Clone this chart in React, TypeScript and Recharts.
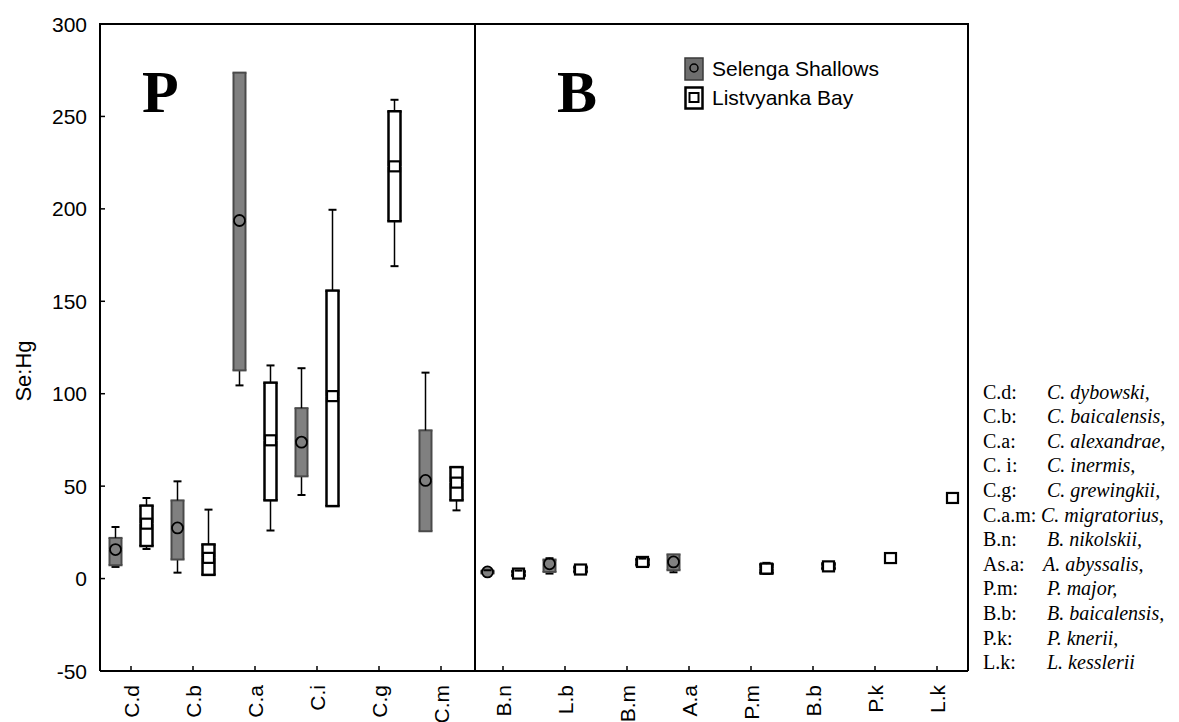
import React from 'react';
import { ComposedChart, Bar, XAxis, YAxis, Legend } from 'recharts';

// ---------- data ----------
const categories = ['C.d', 'C.b', 'C.a', 'C.i', 'C.g', 'C.m', 'B.n', 'L.b', 'B.m', 'A.a', 'P.m', 'B.b', 'P.k', 'L.k'];

// Selenga Shallows (null = no sample)
const selengaMin = [6.3, 3.2, 104.5, 45.2, null, 25.6, 2.5, 2.7, null, 3.4, null, null, null, null];
const selengaQ1 = [7.2, 10.3, 112.6, 55.3, null, 25.6, 2.8, 3.6, null, 4.5, null, null, null, null];
const selengaMed = [15.7, 27.4, 193.7, 73.8, null, 53.1, 3.6, 8.0, null, 9.0, null, null, null, null];
const selengaQ3 = [22.0, 42.3, 273.7, 92.2, null, 80.2, 4.2, 10.3, null, 13.1, null, null, null, null];
const selengaMax = [27.9, 52.6, 273.7, 113.8, null, 111.4, 4.5, 11.0, null, 13.1, null, null, null, null];

// Listvyanka Bay
const listvMin = [16.0, 2.0, 26.0, 39.2, 169.0, 36.9, 1.2, 3.2, 6.8, null, 2.5, 5.0, 11.1, 43.6];
const listvQ1 = [17.6, 2.0, 42.3, 39.2, 193.3, 42.3, 1.5, 3.5, 7.2, null, 2.8, 5.2, 11.1, 43.6];
const listvMed = [29.7, 11.2, 74.8, 98.7, 223.0, 51.9, 2.7, 4.9, 9.0, null, 5.4, 6.6, 11.1, 43.6];
const listvQ3 = [39.5, 18.5, 106.0, 155.8, 252.8, 60.3, 4.0, 6.4, 10.5, null, 7.8, 8.2, 11.1, 43.6];
const listvMax = [43.6, 37.3, 115.3, 199.5, 259.0, 60.3, 4.3, 6.6, 10.8, null, 8.5, 8.4, 11.1, 43.6];

const yTicks = [-50, 0, 50, 100, 150, 200, 250, 300];
const seriesNames = ['Selenga Shallows', 'Listvyanka Bay'];
const panelLabels = ['P', 'B'];
const speciesAbbr = ['C.d:', 'C.b:', 'C.a:', 'C. i:', 'C.g:', 'C.a.m:', 'B.n:', 'As.a:', 'P.m:', 'B.b:', 'P.k:', 'L.k:'];
const speciesNames = ['C. dybowski,', 'C. baicalensis,', 'C. alexandrae,', 'C. inermis,', 'C. grewingkii,', 'C. migratorius,', 'B. nikolskii,', 'A. abyssalis,', 'P. major,', 'B. baicalensis,', 'P. knerii,', 'L. kesslerii'];

// ---------- table for recharts (stacked segments) ----------
type Num = number | null;
const data = categories.map((name, i) => {
  const row: any = { name };
  const add = (p: string, mn: Num[], q1: Num[], md: Num[], q3: Num[], mx: Num[]) => {
    const ok = mn[i] != null;
    row[p + 'ok'] = ok;
    row[p + '0'] = ok ? (mn[i] as number) : 0;
    row[p + '1'] = ok ? (q1[i] as number) - (mn[i] as number) : 0;
    row[p + '2'] = ok ? (md[i] as number) - (q1[i] as number) : 0;
    row[p + '3'] = ok ? (q3[i] as number) - (md[i] as number) : 0;
    row[p + '4'] = ok ? (mx[i] as number) - (q3[i] as number) : 0;
  };
  add('S', selengaMin, selengaQ1, selengaMed, selengaQ3, selengaMax);
  add('L', listvMin, listvQ1, listvMed, listvQ3, listvMax);
  return row;
});

// ---------- styles ----------
const SANS = '"Liberation Sans", Arial, Helvetica, sans-serif';
const SERIF = '"Liberation Serif", "Times New Roman", Times, serif';
const BOX_W = 12;
const GRAY = '#808080';
const GRAY_EDGE = '#4a4a4a';

const W = 1179;
const H = 722;
const M = { top: 24, right: 211, bottom: 1, left: 40 };
const Y_AXIS_W = 60;
const X_AXIS_H = 50;
const PLOT_L = M.left + Y_AXIS_W;
const PLOT_T = M.top;
const PLOT_R = W - M.right;
const PLOT_B = H - M.bottom - X_AXIS_H;

const makeShape = (series: 'S' | 'L', seg: number) => (props: any) => {
  const { x, y, width, height, payload } = props;
  if (!payload || !payload[series + 'ok'] || seg === 0) return <g />;
  const cx = x + width / 2;
  const top = y;
  const bot = y + height;
  const gray = series === 'S';
  const edge = gray ? GRAY_EDGE : '#000';
  const edgeW = gray ? 2 : 2.5;
  const fill = gray ? GRAY : '#fff';
  const l = cx - BOX_W / 2;
  const r = cx + BOX_W / 2;
  if (seg === 1 || seg === 4) {
    if (height < 0.5) return <g />;
    const capY = seg === 1 ? bot : top;
    return (
      <g>
        <line x1={cx} x2={cx} y1={top} y2={bot} stroke="#000" strokeWidth={1.5} />
        <line x1={cx - 4} x2={cx + 4} y1={capY} y2={capY} stroke="#000" strokeWidth={2} />
      </g>
    );
  }
  if (seg === 2) {
    return (
      <g>
        <rect x={l} y={top} width={BOX_W} height={Math.max(height, 0)} fill={fill} />
        {height > 0.3 && <line x1={l} x2={l} y1={top} y2={bot} stroke={edge} strokeWidth={edgeW} />}
        {height > 0.3 && <line x1={r} x2={r} y1={top} y2={bot} stroke={edge} strokeWidth={edgeW} />}
        {height > 0.3 && <line x1={l - edgeW / 2} x2={r + edgeW / 2} y1={bot} y2={bot} stroke={edge} strokeWidth={edgeW} />}
      </g>
    );
  }
  // seg 3: upper half of box + median marker
  const med = bot;
  return (
    <g>
      <rect x={l} y={top} width={BOX_W} height={Math.max(height, 0)} fill={fill} />
      {height > 0.3 && <line x1={l} x2={l} y1={top} y2={bot} stroke={edge} strokeWidth={edgeW} />}
      {height > 0.3 && <line x1={r} x2={r} y1={top} y2={bot} stroke={edge} strokeWidth={edgeW} />}
      {height > 0.3 && <line x1={l - edgeW / 2} x2={r + edgeW / 2} y1={top} y2={top} stroke={edge} strokeWidth={edgeW} />}
      {gray ? (
        <circle cx={cx} cy={med} r={5.5} fill={GRAY} stroke="#000" strokeWidth={1.8} />
      ) : (
        <rect x={cx - 5.5} y={med - 5} width={11} height={10} fill="#fff" stroke="#000" strokeWidth={2.2} />
      )}
    </g>
  );
};

const XTick = (props: any) => {
  const { x, y, payload } = props;
  const axisY = y - 14;
  return (
    <g>
      <line x1={x} x2={x} y1={axisY} y2={axisY - 5} stroke="#000" strokeWidth={1.5} />
      <text
        x={x}
        y={y}
        transform={`rotate(-90, ${x}, ${y})`}
        textAnchor="end"
        dominantBaseline="central"
        fontFamily={SANS}
        fontSize={21}
        fill="#000"
      >
        {payload.value}
      </text>
    </g>
  );
};

const YTick = (props: any) => {
  const { x, y, payload } = props;
  const axisX = x + 13;
  return (
    <g>
      <line x1={axisX} x2={axisX + 5} y1={y} y2={y} stroke="#000" strokeWidth={1.5} />
      <text x={x} y={y} textAnchor="end" dominantBaseline="central" fontFamily={SANS} fontSize={21} fill="#000">
        {payload.value}
      </text>
    </g>
  );
};

const LegendIcon = ({ idx }: { idx: number }) =>
  idx === 0 ? (
    <svg width={20} height={24} style={{ display: 'block' }}>
      <rect x={1} y={1} width={18} height={22} fill="#6e6e6e" stroke="#3a3a3a" strokeWidth={1.5} />
      <circle cx={10} cy={11} r={4} fill="#6e6e6e" stroke="#000" strokeWidth={1.5} />
    </svg>
  ) : (
    <svg width={20} height={24} style={{ display: 'block' }}>
      <rect x={1.5} y={1.5} width={17} height={21} fill="#fff" stroke="#000" strokeWidth={2.5} />
      <rect x={5.5} y={7} width={9} height={9} fill="#fff" stroke="#000" strokeWidth={2} />
    </svg>
  );

const LegendContent = () => (
  <div style={{ fontFamily: SANS, fontSize: 21, color: '#000' }}>
    {seriesNames.map((n, i) => (
      <div key={n} style={{ display: 'flex', alignItems: 'center', height: 29.5 }}>
        <LegendIcon idx={i} />
        <span style={{ marginLeft: 8, whiteSpace: 'nowrap' }}>{n}</span>
      </div>
    ))}
  </div>
);

export default function App() {
  const dividerX = 475;
  const bars: React.ReactNode[] = [];
  (['S', 'L'] as const).forEach((s) => {
    for (let k = 0; k < 5; k++) {
      bars.push(
        <Bar
          key={s + k}
          dataKey={s + k}
          stackId={s}
          name={s === 'S' ? seriesNames[0] : seriesNames[1]}
          legendType={k === 2 ? 'rect' : 'none'}
          shape={makeShape(s, k)}
          isAnimationActive={false}
        />
      );
    }
  });

  return (
    <div style={{ position: 'absolute', left: 0, top: 0, width: W, height: H, overflow: 'hidden', background: '#fff' }}>
      <ComposedChart width={W} height={H} data={data} margin={M} barCategoryGap={0} barGap={0}>
        <XAxis
          dataKey="name"
          interval={0}
          height={X_AXIS_H}
          tickSize={0}
          tickMargin={14}
          tickLine={false}
          tick={<XTick />}
          axisLine={{ stroke: '#000', strokeWidth: 2 }}
        />
        <YAxis
          domain={[-50, 300]}
          ticks={yTicks}
          width={Y_AXIS_W}
          tickSize={0}
          tickMargin={13}
          tickLine={false}
          tick={<YTick />}
          axisLine={{ stroke: '#000', strokeWidth: 2 }}
          allowDataOverflow
        />
        <Legend
          layout="horizontal"
          verticalAlign="middle"
          align="center"
          wrapperStyle={{ position: 'absolute', left: 684, top: 54, width: 260, height: 60 }}
          content={<LegendContent />}
        />
        {bars}
      </ComposedChart>
      <svg
        width={W}
        height={H}
        style={{ position: 'absolute', left: 0, top: 0, pointerEvents: 'none' }}
      >
        <line x1={PLOT_L - 1} x2={PLOT_R + 1} y1={PLOT_T} y2={PLOT_T} stroke="#000" strokeWidth={2} />
        <line x1={PLOT_R} x2={PLOT_R} y1={PLOT_T} y2={PLOT_B} stroke="#000" strokeWidth={2} />
        <line x1={dividerX} x2={dividerX} y1={PLOT_T} y2={PLOT_B} stroke="#000" strokeWidth={2} />
        <text x={142} y={112} fontFamily={SERIF} fontWeight="bold" fontSize={60} fill="#000">
          {panelLabels[0]}
        </text>
        <text x={557} y={112} fontFamily={SERIF} fontWeight="bold" fontSize={60} fill="#000">
          {panelLabels[1]}
        </text>
        <text
          x={23}
          y={371}
          transform="rotate(-90, 23, 371)"
          textAnchor="middle"
          dominantBaseline="central"
          fontFamily={SANS}
          fontSize={22}
          fill="#000"
        >
          Se:Hg
        </text>
        {speciesAbbr.map((a, i) => {
          const yy = 398.5 + i * 24.6;
          const nx = i === 5 ? 1041 : i === 7 ? 1043 : 1047;
          return (
            <text key={a} y={yy} fontFamily={SERIF} fontSize={20} fill="#000">
              <tspan x={983}>{a}</tspan>
              <tspan x={nx} fontStyle="italic">
                {speciesNames[i]}
              </tspan>
            </text>
          );
        })}
      </svg>
    </div>
  );
}
